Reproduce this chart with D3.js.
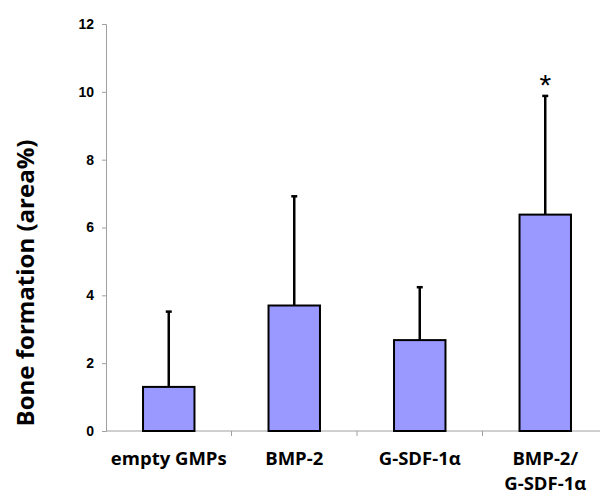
<!DOCTYPE html>
<html>
<head>
<meta charset="utf-8">
<script src="https://cdn.jsdelivr.net/npm/d3@7"></script>
<style>
  body { margin: 0; background: #fff; }
  svg { display: block; }
</style>
</head>
<body>
<div id="chart"></div>
<script>
const categories = ["empty GMPs", "BMP-2", "G-SDF-1α", "BMP-2/\nG-SDF-1α"];
const means = [1.3, 3.7, 2.68, 6.38];
const errors = [2.22, 3.22, 1.56, 3.5];
const marks = ["", "", "", "*"];
const yTicks = [0, 2, 4, 6, 8, 10, 12];

const width = 600,
  height = 497;
const margin = { top: 24, right: -8, bottom: 66, left: 106 };

const svg = d3
  .select("#chart")
  .append("svg")
  .attr("width", width)
  .attr("height", height);

const x = d3
  .scaleBand()
  .domain(categories)
  .range([margin.left, width - margin.right])
  .paddingInner(0.59)
  .paddingOuter(0.295);

const xOuter = d3
  .scaleBand()
  .domain(categories)
  .range([margin.left, width - margin.right]);

const y = d3
  .scaleLinear()
  .domain([0, 12])
  .range([height - margin.bottom, margin.top]);

// y axis
const yAxis = svg
  .append("g")
  .attr("transform", `translate(${margin.left},0)`)
  .call(d3.axisLeft(y).tickValues(yTicks).tickSize(4).tickPadding(8));
yAxis.select(".domain").attr("stroke", "#a0a0a0");
yAxis.selectAll(".tick line").attr("stroke", "#a0a0a0");
yAxis
  .selectAll(".tick text")
  .style("font-family", "Liberation Sans, Arial, sans-serif")
  .style("font-size", "14px")
  .style("font-weight", "bold")
  .attr("fill", "#000");

// x axis
const xAxisY = y(0);
svg
  .append("line")
  .attr("x1", margin.left)
  .attr("x2", width)
  .attr("y1", xAxisY)
  .attr("y2", xAxisY)
  .attr("stroke", "#a0a0a0");

svg
  .selectAll(".xtick")
  .data(categories.slice(1))
  .enter()
  .append("line")
  .attr("class", "xtick")
  .attr("x1", (d) => xOuter(d))
  .attr("x2", (d) => xOuter(d))
  .attr("y1", xAxisY)
  .attr("y2", xAxisY + 5)
  .attr("stroke", "#a0a0a0");

// error bars
svg
  .selectAll(".err")
  .data(categories)
  .enter()
  .append("line")
  .attr("class", "err")
  .attr("x1", (d) => x(d) + x.bandwidth() / 2)
  .attr("x2", (d) => x(d) + x.bandwidth() / 2)
  .attr("y1", (d, i) => y(means[i]))
  .attr("y2", (d, i) => y(means[i] + errors[i]))
  .attr("stroke", "#000")
  .attr("stroke-width", 2.5);

svg
  .selectAll(".cap")
  .data(categories)
  .enter()
  .append("line")
  .attr("class", "cap")
  .attr("x1", (d) => x(d) + x.bandwidth() / 2 - 3)
  .attr("x2", (d) => x(d) + x.bandwidth() / 2 + 3)
  .attr("y1", (d, i) => y(means[i] + errors[i]))
  .attr("y2", (d, i) => y(means[i] + errors[i]))
  .attr("stroke", "#000")
  .attr("stroke-width", 2.5);

// bars
svg
  .selectAll(".bar")
  .data(categories)
  .enter()
  .append("rect")
  .attr("class", "bar")
  .attr("x", (d) => x(d))
  .attr("y", (d, i) => y(means[i]))
  .attr("width", x.bandwidth())
  .attr("height", (d, i) => y(0) - y(means[i]))
  .attr("fill", "#9999ff")
  .attr("stroke", "#000")
  .attr("stroke-width", 2);

// significance marks
svg
  .selectAll(".mark")
  .data(categories)
  .enter()
  .append("text")
  .attr("class", "mark")
  .attr("x", (d) => x(d) + x.bandwidth() / 2)
  .attr("y", (d, i) => y(means[i] + errors[i]) - 1)
  .attr("text-anchor", "middle")
  .style("font-family", "Liberation Sans, sans-serif")
  .style("font-size", "30px")
  .text((d, i) => marks[i]);

// category labels (one text per line)
const labelLines = categories.flatMap((c) =>
  c.split("\n").map((t, k) => ({ t, c, k }))
);

svg
  .selectAll(".xlabel")
  .data(labelLines)
  .enter()
  .append("text")
  .attr("class", "xlabel")
  .attr("x", (d) => x(d.c) + x.bandwidth() / 2)
  .attr("y", (d) => 465 + d.k * 25)
  .attr("text-anchor", "middle")
  .style("font-family", "Open Sans, sans-serif")
  .style("font-size", "18.5px")
  .style("font-weight", "bold")
  .text((d) => d.t);

// y title
svg
  .append("text")
  .attr("transform", "translate(34,283) rotate(-90)")
  .attr("text-anchor", "middle")
  .style("font-family", "Open Sans, sans-serif")
  .style("font-size", "24px")
  .style("font-weight", "bold")
  .text("Bone formation (area%)");
</script>
</body>
</html>
